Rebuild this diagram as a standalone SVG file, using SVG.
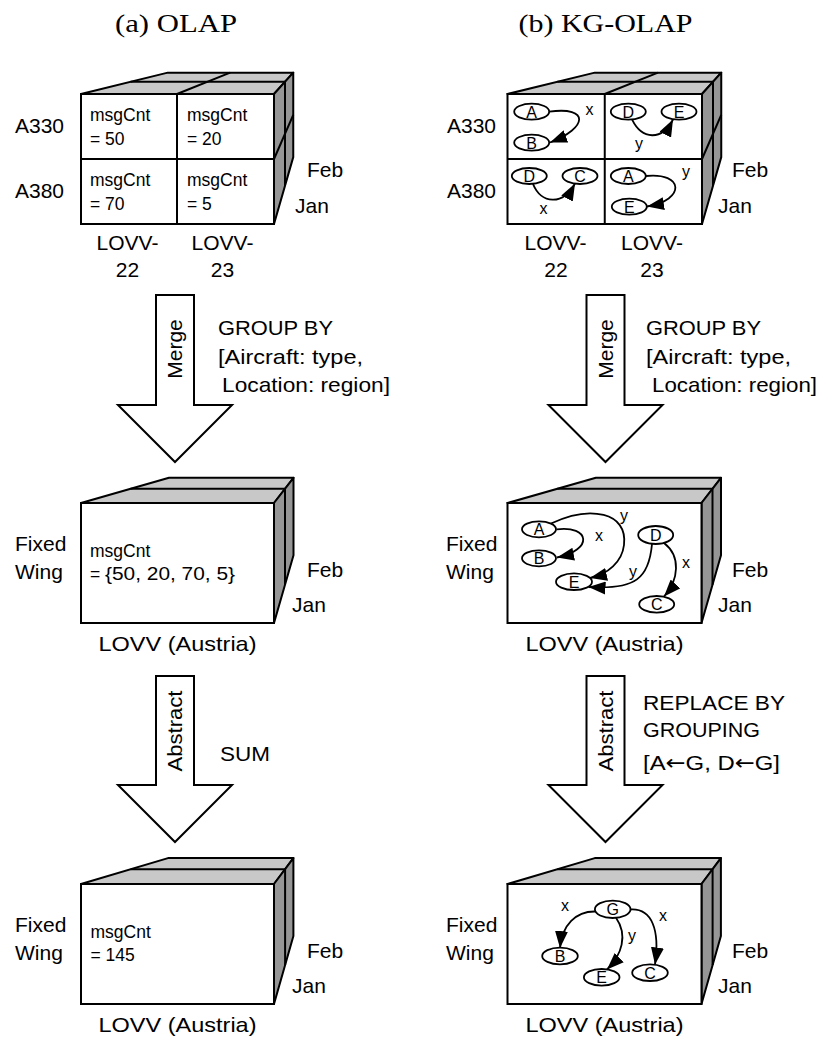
<svg xmlns="http://www.w3.org/2000/svg" width="833" height="1053" viewBox="0 0 833 1053">
<defs>
<style>
.top{fill:#c8c8c8;stroke:#000;stroke-width:2;stroke-linejoin:round}
.side{fill:#969696;stroke:#000;stroke-width:2;stroke-linejoin:round}
.front{fill:#fff;stroke:#000;stroke-width:2}
.ln{stroke:#000;stroke-width:2;fill:none}
.t{font-family:"Liberation Sans",Arial,sans-serif;font-size:21px;fill:#000}
.c{font-family:"Liberation Sans",Arial,sans-serif;font-size:17.5px;fill:#000}
.m{text-anchor:middle}
.ar{font-family:"DejaVu Sans",sans-serif}
.ttl{font-family:"Liberation Serif","Times New Roman",serif;font-size:26px;fill:#000;text-anchor:middle}
.nd ellipse{fill:#fff;stroke:#000;stroke-width:1.8}
.nd text{font-family:"Liberation Sans",Arial,sans-serif;font-size:16px;text-anchor:middle}
.el{font-family:"Liberation Sans",Arial,sans-serif;font-size:16px;text-anchor:middle}
.e{fill:none;stroke:#000;stroke-width:1.8;marker-end:url(#ah)}
.big{fill:#fff;stroke:#000;stroke-width:2;stroke-linejoin:miter}
</style>
<marker id="ah" markerUnits="userSpaceOnUse" markerWidth="18" markerHeight="13" refX="17" refY="6.5" orient="auto" viewBox="0 0 18 13">
<path d="M0,0 L17,6.5 L0,13 z" fill="#000"/>
</marker>
</defs>
<rect width="833" height="1053" fill="#fff"/>

<text class="ttl" x="176" y="32" textLength="122" lengthAdjust="spacingAndGlyphs">(a) OLAP</text>
<text class="ttl" x="605.5" y="32" textLength="174" lengthAdjust="spacingAndGlyphs">(b) KG-OLAP</text>

<!-- Top-left cube -->
<g id="cube-olap-base">
<polygon class="top" points="81,94 274,94 293.25,72.65 167.8,72.65"/>
<polygon class="side" points="274,94 293.25,72.65 293.25,157.15 274,224"/>
<rect class="front" x="81" y="94" width="193" height="130"/>
<line class="ln" x1="177" y1="94" x2="177" y2="224"/>
<line class="ln" x1="81" y1="159" x2="274" y2="159"/>
<line class="ln" x1="130.6" y1="81.8" x2="285" y2="81.8"/>
<line class="ln" x1="177" y1="94" x2="230.2" y2="72.65"/>
<line class="ln" x1="285" y1="81.8" x2="285" y2="185.8"/>
<line class="ln" x1="274" y1="159" x2="293.25" y2="114.9"/>
<text class="c" x="90" y="121">msgCnt</text>
<text class="c" y="145"><tspan x="90">=</tspan><tspan x="105">50</tspan></text>
<text class="c" x="187" y="121">msgCnt</text>
<text class="c" y="145"><tspan x="187">=</tspan><tspan x="202">20</tspan></text>
<text class="c" x="90" y="186">msgCnt</text>
<text class="c" y="210"><tspan x="90">=</tspan><tspan x="105">70</tspan></text>
<text class="c" x="187" y="186">msgCnt</text>
<text class="c" y="210"><tspan x="187">=</tspan><tspan x="202">5</tspan></text>
<text class="t" x="15" y="133">A330</text>
<text class="t" x="15" y="198">A380</text>
<text class="t" x="307" y="177">Feb</text>
<text class="t" x="295" y="213">Jan</text>
<text class="t m" x="127.5" y="250">LOVV-</text>
<text class="t m" x="127.5" y="277">22</text>
<text class="t m" x="222.5" y="250">LOVV-</text>
<text class="t m" x="222.5" y="277">23</text>
</g>

<!-- Top-right cube -->
<g id="cube-kg-base">
<polygon class="top" points="507.5,94 702,94 721.25,72.65 594.8,72.65"/>
<polygon class="side" points="702,94 721.25,72.65 721.25,157.15 702,224"/>
<rect class="front" x="507.5" y="94" width="194.5" height="130"/>
<line class="ln" x1="604.75" y1="94" x2="604.75" y2="224"/>
<line class="ln" x1="507.5" y1="159" x2="702" y2="159"/>
<line class="ln" x1="557.4" y1="81.8" x2="713" y2="81.8"/>
<line class="ln" x1="604.75" y1="94" x2="658" y2="72.65"/>
<line class="ln" x1="713" y1="81.8" x2="713" y2="185.8"/>
<line class="ln" x1="702" y1="159" x2="721.25" y2="114.9"/>
<text class="t" x="447" y="133">A330</text>
<text class="t" x="447" y="198">A380</text>
<text class="t" x="732" y="177">Feb</text>
<text class="t" x="718" y="213">Jan</text>
<text class="t m" x="555.5" y="250">LOVV-</text>
<text class="t m" x="556" y="277">22</text>
<text class="t m" x="652" y="250">LOVV-</text>
<text class="t m" x="652" y="277">23</text>
</g>

<!-- Middle-left cube -->
<g id="cube-olap-merged">
<polygon class="top" points="81,503 274,503 293.5,477.8 169,477.8"/>
<polygon class="side" points="274,503 293.5,477.8 293.5,555.2 274,623"/>
<rect class="front" x="81" y="503" width="193" height="120"/>
<line class="ln" x1="130.6" y1="488.8" x2="285" y2="488.8"/>
<line class="ln" x1="285" y1="488.8" x2="285" y2="584.8"/>
<text class="c" x="90" y="557">msgCnt</text>
<text class="c" y="580"><tspan x="90">=</tspan><tspan x="105" textLength="130" lengthAdjust="spacingAndGlyphs">{50, 20, 70, 5}</tspan></text>
<text class="t" x="15" y="551">Fixed</text>
<text class="t" x="15" y="579">Wing</text>
<text class="t" x="307" y="577">Feb</text>
<text class="t" x="292" y="612">Jan</text>
<text class="t m" x="177.5" y="650.7" textLength="158" lengthAdjust="spacingAndGlyphs">LOVV (Austria)</text>
</g>

<!-- Middle-right cube -->
<g id="cube-kg-merged">
<polygon class="top" points="507.5,503 701.5,503 721,477.8 595.9,477.8"/>
<polygon class="side" points="701.5,503 721,477.8 721,555.2 701.5,623"/>
<rect class="front" x="507.5" y="503" width="194" height="120"/>
<line class="ln" x1="557.3" y1="488.8" x2="712.5" y2="488.8"/>
<line class="ln" x1="712.5" y1="488.8" x2="712.5" y2="584.8"/>
<text class="t" x="446" y="551">Fixed</text>
<text class="t" x="446" y="579">Wing</text>
<text class="t" x="732" y="577">Feb</text>
<text class="t" x="718" y="612">Jan</text>
<text class="t m" x="604.5" y="650.7" textLength="158" lengthAdjust="spacingAndGlyphs">LOVV (Austria)</text>
</g>

<!-- Bottom-left cube -->
<g id="cube-olap-abstract">
<polygon class="top" points="81,884 274,884 293.4,858.1 168,858.1"/>
<polygon class="side" points="274,884 293.4,858.1 293.4,936.1 274,1004"/>
<rect class="front" x="81" y="884" width="193" height="120"/>
<line class="ln" x1="130.7" y1="869.2" x2="285.1" y2="869.2"/>
<line class="ln" x1="285.1" y1="869.2" x2="285.1" y2="965"/>
<text class="c" x="90.5" y="938">msgCnt</text>
<text class="c" y="961"><tspan x="90.5">=</tspan><tspan x="105.5">145</tspan></text>
<text class="t" x="15" y="931.7">Fixed</text>
<text class="t" x="15" y="960">Wing</text>
<text class="t" x="307" y="958">Feb</text>
<text class="t" x="292" y="993">Jan</text>
<text class="t m" x="177.5" y="1031.7" textLength="158" lengthAdjust="spacingAndGlyphs">LOVV (Austria)</text>
</g>

<!-- Bottom-right cube -->
<g id="cube-kg-abstract">
<polygon class="top" points="507.5,884 701.5,884 720.9,858.1 594.8,858.1"/>
<polygon class="side" points="701.5,884 720.9,858.1 720.9,936.1 701.5,1004"/>
<rect class="front" x="507.5" y="884" width="194" height="120"/>
<line class="ln" x1="557.4" y1="869.2" x2="712.6" y2="869.2"/>
<line class="ln" x1="712.6" y1="869.2" x2="712.6" y2="965"/>
<text class="t" x="446" y="931.7">Fixed</text>
<text class="t" x="446" y="960">Wing</text>
<text class="t" x="732" y="958">Feb</text>
<text class="t" x="718" y="993">Jan</text>
<text class="t m" x="604.5" y="1031.7" textLength="158" lengthAdjust="spacingAndGlyphs">LOVV (Austria)</text>
</g>

<g id="connectors">
<g id="op-merge-olap">
<polygon class="big" points="156,295 194,295 194,405 232,405 175,462 118,405 156,405"/>
<text class="t m" transform="translate(182,349) rotate(-90)">Merge</text>
</g>
<g id="op-merge-kg">
<polygon class="big" points="586.5,295 624.5,295 624.5,405 662.5,405 605.5,462 548.5,405 586.5,405"/>
<text class="t m" transform="translate(612.5,349) rotate(-90)">Merge</text>
</g>
<g id="op-abstract-olap">
<polygon class="big" points="156,676 194,676 194,785 232,785 175,842 118,785 156,785"/>
<text class="t m" transform="translate(182,731) rotate(-90)" textLength="81" lengthAdjust="spacingAndGlyphs">Abstract</text>
</g>
<g id="op-abstract-kg">
<polygon class="big" points="586.5,676 624.5,676 624.5,785 662.5,785 605.5,842 548.5,785 586.5,785"/>
<text class="t m" transform="translate(612.5,731) rotate(-90)" textLength="81" lengthAdjust="spacingAndGlyphs">Abstract</text>
</g>
<path class="e" d="M549.2,111.7 C590,106 588,128 550,142.5"/>
<path class="e" d="M632,119.4 C642,140 662,141 673,119.5"/>
<path class="e" d="M533,183.8 C541,204 563,206 575,183.5"/>
<path class="e" d="M645.8,176 C684,172 686,200 647,206.5"/>
<path class="e" d="M556.5,529.3 C590,525 594,550 557,557.5"/>
<path class="e" d="M551,523.5 C590,505 628,512 624,545 C622,562 608,574 590,578"/>
<path class="e" d="M652,544 C649,578 636,590 588.5,587"/>
<path class="e" d="M664,543 C681,556 679,580 664,596.5"/>
<path class="e" d="M595.5,911.5 C576,911 562,925 560,948"/>
<path class="e" d="M616,917.8 C628,935 622,955 607,969.5"/>
<path class="e" d="M630.3,909.5 C652,908 660,930 655,964.5"/>
<text class="el" x="589.5" y="115">x</text>
<text class="el" x="639" y="149">y</text>
<text class="el" x="543.5" y="214">x</text>
<text class="el" x="686" y="177">y</text>
<text class="el" x="599" y="541">x</text>
<text class="el" x="624" y="521">y</text>
<text class="el" x="633" y="577">y</text>
<text class="el" x="686" y="568">x</text>
<text class="el" x="565" y="911">x</text>
<text class="el" x="632" y="941">y</text>
<text class="el" x="663" y="921">x</text>
</g>

<g id="op-labels">
<text class="t" x="218" y="335" textLength="115" lengthAdjust="spacingAndGlyphs">GROUP BY</text>
<text class="t" x="218" y="364" textLength="145" lengthAdjust="spacingAndGlyphs">[Aircraft: type,</text>
<text class="t" x="222" y="392" textLength="168" lengthAdjust="spacingAndGlyphs">Location: region]</text>
<text class="t" x="646" y="335" textLength="115" lengthAdjust="spacingAndGlyphs">GROUP BY</text>
<text class="t" x="646" y="364" textLength="145" lengthAdjust="spacingAndGlyphs">[Aircraft: type,</text>
<text class="t" x="652" y="392" textLength="165" lengthAdjust="spacingAndGlyphs">Location: region]</text>
<text class="t" x="220" y="761" textLength="50" lengthAdjust="spacingAndGlyphs">SUM</text>
<text class="t" x="643" y="710" textLength="142" lengthAdjust="spacingAndGlyphs">REPLACE BY</text>
<text class="t" x="643" y="737" textLength="117" lengthAdjust="spacingAndGlyphs">GROUPING</text>
<text class="t" x="643" y="770" textLength="137" lengthAdjust="spacingAndGlyphs">[A<tspan class="ar">←</tspan>G, D<tspan class="ar">←</tspan>G]</text>
</g>

<g id="n-A330-22-A" class="nd"><ellipse cx="531.7" cy="111.7" rx="17.5" ry="8"/><text x="531.7" y="117.5">A</text></g>
<g id="n-A330-22-B" class="nd"><ellipse cx="531.7" cy="142.7" rx="17.5" ry="8"/><text x="531.7" y="148.5">B</text></g>
<g id="n-A330-23-D" class="nd"><ellipse cx="628.3" cy="111.7" rx="17.5" ry="8"/><text x="628.3" y="117.5">D</text></g>
<g id="n-A330-23-E" class="nd"><ellipse cx="679" cy="111.7" rx="17.5" ry="8"/><text x="679" y="117.5">E</text></g>
<g id="n-A380-22-D" class="nd"><ellipse cx="529.3" cy="176" rx="17.5" ry="8"/><text x="529.3" y="181.8">D</text></g>
<g id="n-A380-22-C" class="nd"><ellipse cx="580" cy="176" rx="17.5" ry="8"/><text x="580" y="181.8">C</text></g>
<g id="n-A380-23-A" class="nd"><ellipse cx="628.3" cy="176" rx="17.5" ry="8"/><text x="628.3" y="181.8">A</text></g>
<g id="n-A380-23-E" class="nd"><ellipse cx="629.3" cy="206.7" rx="17.5" ry="8"/><text x="629.3" y="212.5">E</text></g>

<g id="n-m-A" class="nd"><ellipse cx="539" cy="529.3" rx="17" ry="8"/><text x="539" y="535.1">A</text></g>
<g id="n-m-B" class="nd"><ellipse cx="539" cy="558.3" rx="17" ry="8"/><text x="539" y="564.1">B</text></g>
<g id="n-m-E" class="nd"><ellipse cx="574" cy="581.7" rx="18" ry="8.3"/><text x="574" y="587.5">E</text></g>
<g id="n-m-D" class="nd"><ellipse cx="655.7" cy="535" rx="17.5" ry="9"/><text x="655.7" y="540.8">D</text></g>
<g id="n-m-C" class="nd"><ellipse cx="656.7" cy="604.3" rx="17.5" ry="8.3"/><text x="656.7" y="610.1">C</text></g>

<g id="n-a-G" class="nd"><ellipse cx="612.7" cy="909.3" rx="17.8" ry="8.7"/><text x="612.7" y="915.1">G</text></g>
<g id="n-a-B" class="nd"><ellipse cx="560" cy="956" rx="17.8" ry="8.3"/><text x="560" y="961.8">B</text></g>
<g id="n-a-E" class="nd"><ellipse cx="601.7" cy="977.3" rx="17.8" ry="8.3"/><text x="601.7" y="983.1">E</text></g>
<g id="n-a-C" class="nd"><ellipse cx="650" cy="972.7" rx="17.8" ry="8.3"/><text x="650" y="978.5">C</text></g>
</svg>
